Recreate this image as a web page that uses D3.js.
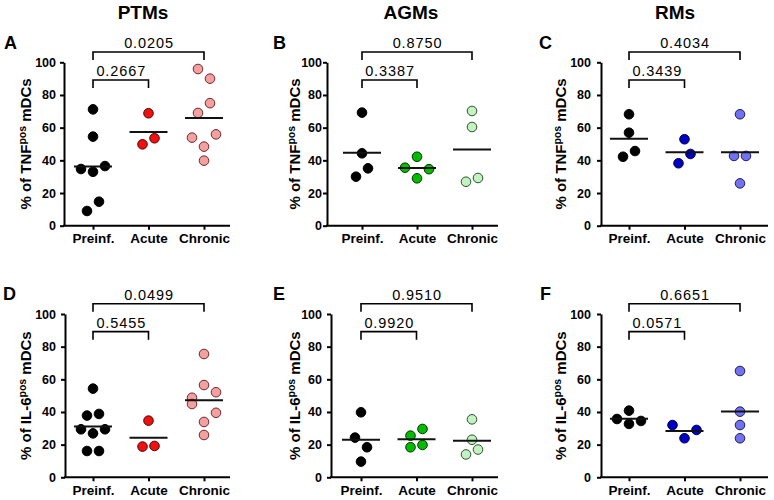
<!DOCTYPE html>
<html>
<head>
<meta charset="utf-8">
<script src="https://cdn.jsdelivr.net/npm/d3@7/dist/d3.min.js"></script>
<style>
  body { margin: 0; background: #fff; }
  svg text { font-family: "Liberation Sans", Arial, sans-serif; }
</style>
</head>
<body>
<div id="chart"></div>
<script>
// categories / titles
const groups = ["Preinf.", "Acute", "Chronic"];
const species = ["PTMs", "AGMs", "RMs"];
const panelLetters = ["A", "B", "C", "D", "E", "F"];
const yTicks = [0, 20, 40, 60, 80, 100];

// % of TNF pos mDCs (top row)
const ptmTnfPreinf  = [71.2, 54.5, 34.7, 33.0, 36.5, 9.0, 14.7];
const ptmTnfAcute   = [68.8, 49.8, 53.5];
const ptmTnfChronic = [95.9, 90.0, 69.0, 75.0, 53.9, 55.9, 48.4, 39.8];
const agmTnfPreinf  = [69.2, 44.3, 30.0, 35.1];
const agmTnfAcute   = [42.2, 35.5, 34.6, 29.0];
const agmTnfChronic = [70.2, 60.4, 26.9, 29.2];
const rmTnfPreinf   = [68.2, 56.9, 42.2, 45.7];
const rmTnfAcute    = [52.9, 38.2, 43.9];
const rmTnfChronic  = [68.2, 42.7, 42.7, 25.9];

// % of IL-6 pos mDCs (bottom row)
const ptmIl6Preinf  = [54.3, 37.8, 38.8, 29.4, 26.9, 29.4, 16.1, 16.1];
const ptmIl6Acute   = [34.7, 18.8, 19.2];
const ptmIl6Chronic = [75.5, 56.5, 48.7, 52.1, 44.9, 39.5, 33.9, 25.9];
const agmIl6Preinf  = [39.8, 24.3, 18.4, 9.6];
const agmIl6Acute   = [25.5, 29.6, 18.4, 19.8];
const agmIl6Chronic = [35.5, 23.0, 14.0, 17.0];
const rmIl6Preinf   = [40.8, 35.7, 32.7, 34.5];
const rmIl6Acute    = [32.0, 29.0, 23.9];
const rmIl6Chronic  = [65.1, 40.2, 32.0, 23.9];

// p values: Preinf. vs Acute, Preinf. vs Chronic
const pAcuteTnf   = ["0.2667", "0.3387", "0.3439"];
const pChronicTnf = ["0.0205", "0.8750", "0.4034"];
const pAcuteIl6   = ["0.5455", "0.9920", "0.0571"];
const pChronicIl6 = ["0.0499", "0.9510", "0.6651"];

const acuteColors   = ["#ee1111", "#00bb00", "#0000c4"];
const chronicColors = ["#f4a0a0", "#c2f2c2", "#7272f0"];
const acuteStroke   = ["#550000", "#003300", "#000044"];
const chronicStroke = ["#6a2a2a", "#2f4f2f", "#1c1c5c"];

const width = 774, height = 500;
const dotR = 4.8;
const STEP = 12;       // horizontal distance between dots of one row
const ROW_SPAN = 10;   // max vertical spread of one row (px)
const HIT = 11.2;      // closer than this -> spread the row wider

// panel frames
const frames = [
  {axisX: 64,  axisEnd: 230, c0: 93,  c2: 204, tickRight: 56,  labelX: 31,  letterX: 4,   top: true},
  {axisX: 327, axisEnd: 498, c0: 362, c2: 472, tickRight: 322, labelX: 300, letterX: 273, top: true},
  {axisX: 601, axisEnd: 768, c0: 629, c2: 740, tickRight: 591, labelX: 566, letterX: 539, top: true},
  {axisX: 65,  axisEnd: 230, c0: 93,  c2: 204, tickRight: 56,  labelX: 31,  letterX: 3,   top: false},
  {axisX: 331, axisEnd: 498, c0: 361, c2: 472, tickRight: 322, labelX: 300, letterX: 273, top: false},
  {axisX: 601, axisEnd: 768, c0: 629, c2: 740, tickRight: 591, labelX: 566, letterX: 540, top: false}
];

const svg = d3.select("#chart").append("svg")
    .attr("width", width)
    .attr("height", height);

// GraphPad-like scatter: close values share a row, rows are centred
function swarm(values, y) {
  const pts = values.map((v, i) => ({v: v, i: i, y: y(v), off: 0}));
  const sorted = pts.slice().sort((a, b) => a.y - b.y);
  let rows = sorted.map(p => [p]);
  while (true) {
    let best = -1, bestGap = Infinity;
    for (let k = 0; k < rows.length - 1; k++) {
      const a = rows[k], b = rows[k + 1];
      const gap = b[0].y - a[a.length - 1].y;
      const span = b[b.length - 1].y - a[0].y;
      if (span <= ROW_SPAN && gap < bestGap) { bestGap = gap; best = k; }
    }
    if (best < 0) break;
    rows.splice(best, 2, rows[best].concat(rows[best + 1]));
  }
  const placed = [];
  rows.filter(r => r.length === 1).forEach(r => placed.push(r[0]));
  rows.filter(r => r.length > 1).forEach(r => {
    r.sort((a, b) => a.i - b.i);
    const n = r.length;
    const hits = s => r.some((p, k) => {
      const off = (k - (n - 1) / 2) * s;
      return placed.some(q => Math.hypot(q.off - off, q.y - p.y) < HIT);
    });
    const s = hits(STEP) ? STEP * 2 : STEP;
    r.forEach((p, k) => { p.off = (k - (n - 1) / 2) * s; placed.push(p); });
  });
  return pts;
}

function drawPanel(idx, sets, pA, pC, marker) {
  const f = frames[idx];
  const sp = idx % 3;
  const y0 = f.top ? 225.7 : 477.3;
  const y100 = f.top ? 62.3 : 314;
  const g = svg.append("g");

  const y = d3.scaleLinear().domain([0, 100]).range([y0, y100]);
  const x = d3.scalePoint().domain(groups).range([f.c0, f.c2]);

  // y axis
  g.append("g")
      .attr("transform", `translate(${f.axisX},0)`)
      .call(d3.axisLeft(y).tickValues(yTicks).tickSize(4).tickSizeOuter(0)
        .tickPadding(f.axisX - f.tickRight - 4))
      .call(a => a.selectAll("path,line").attr("stroke", "#000").attr("stroke-width", 2))
      .call(a => a.selectAll("text").attr("font-size", "12.5px").attr("font-weight", "bold").attr("fill", "#000"))
      .attr("font-family", null);

  // x axis
  g.append("g")
      .attr("transform", `translate(0,${y0})`)
      .call(d3.axisBottom(x).tickSize(4).tickPadding(4).tickSizeOuter(0))
      .call(a => a.select(".domain").remove())
      .call(a => a.selectAll("line").attr("stroke", "#000").attr("stroke-width", 2))
      .call(a => a.selectAll("text").attr("font-size", "13.5px").attr("font-weight", "bold").attr("fill", "#000"))
      .attr("font-family", null);
  g.append("line")
      .attr("x1", f.axisX - 1).attr("x2", f.axisEnd)
      .attr("y1", y0).attr("y2", y0)
      .attr("stroke", "#000").attr("stroke-width", 2);

  // y label
  const lab = g.append("text")
      .attr("transform", `translate(${f.labelX},${(y0 + y100) / 2}) rotate(-90)`)
      .attr("text-anchor", "middle")
      .attr("font-size", "15px")
      .attr("font-weight", "bold");
  lab.append("tspan").text("% of " + marker);
  lab.append("tspan").attr("dy", -5.5).attr("font-size", "10.5px").text("pos");
  lab.append("tspan").attr("dy", 5.5).text(" mDCs");

  // dots + mean lines
  sets.forEach((vals, gi) => {
    const cx = x(groups[gi]);
    const fill = gi === 0 ? "#000" : gi === 1 ? acuteColors[sp] : chronicColors[sp];
    const stroke = gi === 0 ? "#000" : gi === 1 ? acuteStroke[sp] : chronicStroke[sp];
    g.selectAll(null)
        .data(swarm(vals, y))
        .enter().append("circle")
        .attr("cx", d => cx + d.off)
        .attr("cy", d => d.y)
        .attr("r", dotR)
        .attr("fill", fill)
        .attr("stroke", stroke)
        .attr("stroke-width", 1);
    const m = y(d3.mean(vals));
    g.append("line")
        .attr("x1", cx - 19).attr("x2", cx + 19)
        .attr("y1", m).attr("y2", m)
        .attr("stroke", "#111").attr("stroke-width", 2);
  });

  // brackets
  const brackets = [
    {to: groups[2], top: 106.3, leg: 101.4, label: pC},
    {to: groups[1], top: 89.2, leg: 84.3, label: pA}
  ];
  brackets.forEach(b => {
    const xa = x(groups[0]), xb = x(b.to);
    g.append("path")
        .attr("d", `M${xa},${y(b.leg)}V${y(b.top)}H${xb}V${y(b.leg)}`)
        .attr("fill", "none")
        .attr("stroke", "#000")
        .attr("stroke-width", 1.6);
    g.append("text")
        .attr("x", (xa + xb) / 2 + 0.5)
        .attr("y", y(b.top) - 4)
        .attr("text-anchor", "middle")
        .attr("font-size", "14.5px")
        .attr("letter-spacing", "0.9px")
        .text(b.label);
  });

  // panel letter
  g.append("text")
      .attr("x", f.letterX)
      .attr("y", f.top ? 49 : 300)
      .attr("font-size", "18px")
      .attr("font-weight", "bold")
      .text(panelLetters[idx]);
}

// column titles
const titleX = [143, 411, 675];
species.forEach((s, i) => {
  svg.append("text")
      .attr("x", titleX[i])
      .attr("y", 19)
      .attr("text-anchor", "middle")
      .attr("font-size", "19px")
      .attr("font-weight", "bold")
      .text(s);
});

drawPanel(0, [ptmTnfPreinf, ptmTnfAcute, ptmTnfChronic], pAcuteTnf[0], pChronicTnf[0], "TNF");
drawPanel(1, [agmTnfPreinf, agmTnfAcute, agmTnfChronic], pAcuteTnf[1], pChronicTnf[1], "TNF");
drawPanel(2, [rmTnfPreinf, rmTnfAcute, rmTnfChronic], pAcuteTnf[2], pChronicTnf[2], "TNF");
drawPanel(3, [ptmIl6Preinf, ptmIl6Acute, ptmIl6Chronic], pAcuteIl6[0], pChronicIl6[0], "IL-6");
drawPanel(4, [agmIl6Preinf, agmIl6Acute, agmIl6Chronic], pAcuteIl6[1], pChronicIl6[1], "IL-6");
drawPanel(5, [rmIl6Preinf, rmIl6Acute, rmIl6Chronic], pAcuteIl6[2], pChronicIl6[2], "IL-6");
</script>
</body>
</html>
